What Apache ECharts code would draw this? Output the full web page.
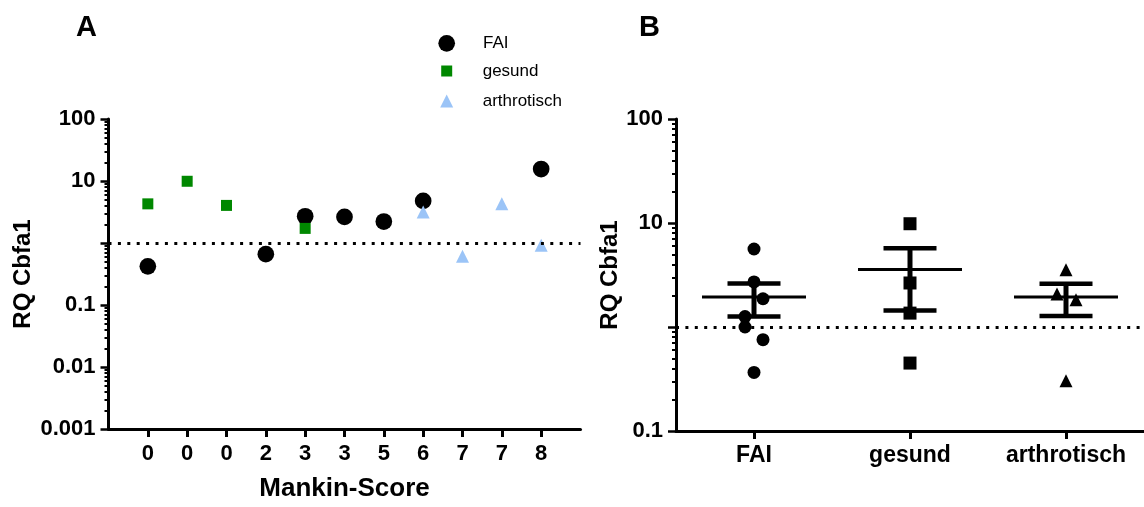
<!DOCTYPE html>
<html><head><meta charset="utf-8">
<script src="https://cdn.jsdelivr.net/npm/echarts@6/dist/echarts.min.js"></script>
<style>html,body{margin:0;padding:0;background:#fff}#c{width:1144px;height:507px}</style>
</head><body><div id="c"></div>
<script>
// ---- Panel A data (Mankin-Score categories, one slot per sample) ----
const mankinCategories = ['', '0', '0', '0', '2', '3', '3', '5', '6', '7', '7', '8', ''];
const faiA     = [null, 0.42, null, null, 0.66, 2.70, 2.63, 2.22, 4.78, null, null, 15.6, null];
const gesundA  = [null, 4.28, 9.9, 4.04, null, 1.72, null, null, null, null, null, null, null];
const arthroA  = [null, null, null, null, null, null, null, null, 3.16, 0.61, 4.28, 0.92, null];
const yTickLabelsA = ['0.001', '0.01', '0.1', '', '10', '100'];   // decades 10^-3 .. 10^2

// ---- Panel B data ----
const groupCategories = ['FAI', 'gesund', 'arthrotisch'];
const faiB    = [5.62, 2.71, 1.87, 1.26, 1.00, 0.755, 0.366];
const gesundB = [9.84, 2.65, 1.36, 0.45];
const arthroB = [3.56, 2.08, 1.83, 0.305];
const yTickLabelsB = ['0.1', '', '10', '100'];                    // decades 10^-1 .. 10^2
const referenceLevel = 1;

// horizontal scatter jitter (pixels) - styling only
const jitterFai = [0, 0, 9, -9, -9, 9, 0];
const jitterGesund = [0, 0, 0, 0];
const jitterArthro = [0, -9, 10, 0];

const FONT = "'Liberation Sans', Arial, Helvetica, sans-serif";
const GREEN = '#008800';
const LIGHTBLUE = '#9bc4f7';

function meanSem(arr) {
  const n = arr.length;
  const m = arr.reduce((a, b) => a + b, 0) / n;
  const sd = Math.sqrt(arr.reduce((a, b) => a + (b - m) * (b - m), 0) / (n - 1));
  const sem = sd / Math.sqrt(n);
  return [m, m - sem, m + sem];
}
const statsB = [faiB, gesundB, arthroB].map((arr, i) => [i].concat(meanSem(arr)));

const chart = echarts.init(document.getElementById('c'), null, { renderer: 'canvas' });

const boldLabel = (size) => ({ color: '#000', fontSize: size, fontWeight: 'bold', fontFamily: FONT });
const axisLine = { show: true, lineStyle: { color: '#000', width: 3 } };

function logAxis(grid, min, max, labels, offsetDecade, nameGap) {
  return {
    gridIndex: grid, type: 'log', logBase: 10, min: min, max: max,
    axisLine: axisLine,
    axisTick: { show: true, length: 8, lineStyle: { color: '#000', width: 2.5 } },
    minorTick: { show: true, splitNumber: 9, length: 4, lineStyle: { color: '#000', width: 2 } },
    splitLine: { show: false }, minorSplitLine: { show: false },
    axisLabel: Object.assign({ margin: 13, formatter: v => labels[Math.round(Math.log10(v)) + offsetDecade] }, boldLabel(22)),
    name: 'RQ Cbfa1', nameLocation: 'middle', nameGap: nameGap,
    nameTextStyle: boldLabel(24)
  };
}

const dotted = {
  silent: true, symbol: 'none', label: { show: false },
  lineStyle: { type: [3, 6.4], color: '#000', width: 3 },
  emphasis: { disabled: true },
  data: [{ yAxis: referenceLevel }]
};

function legendFor(name, icon, size, cx, cy, pad) {
  return {
    data: [{ name: name, icon: icon }], selectedMode: false,
    left: cx - size / 2, top: cy - 9, padding: 0,
    itemWidth: size, itemHeight: size,
    textStyle: { fontSize: 17, lineHeight: 18, color: '#000', fontFamily: FONT, padding: [0, 0, 0, pad] }
  };
}

const option = {
  animation: false,
  backgroundColor: '#fff',
  title: [
    { text: 'A', left: 76, top: 13, padding: 0, textStyle: { fontSize: 29, fontWeight: 'bold', color: '#000', fontFamily: FONT } },
    { text: 'B', left: 639, top: 13, padding: 0, textStyle: { fontSize: 29, fontWeight: 'bold', color: '#000', fontFamily: FONT } }
  ],
  legend: [
    legendFor('FAI', 'circle', 16.7, 446.7, 43.3, 23),
    legendFor('gesund', 'rect', 11, 446.7, 71, 25.5),
    legendFor('arthrotisch', 'triangle', 13, 446.7, 101, 24.5)
  ],
  grid: [
    { left: 108.5, top: 119, width: 472, height: 315 },
    { left: 676, top: 119, width: 471, height: 312 }
  ],
  xAxis: [
    {
      gridIndex: 0, type: 'category', data: mankinCategories, boundaryGap: false,
      axisLine: axisLine,
      axisTick: { show: true, length: 8, lineStyle: { color: '#000', width: 3 }, interval: (i) => i > 0 && i < mankinCategories.length - 1 },
      axisLabel: Object.assign({ margin: 14, interval: 0 }, boldLabel(22)),
      splitLine: { show: false },
      name: 'Mankin-Score', nameLocation: 'middle', nameGap: 47,
      nameTextStyle: boldLabel(26)
    },
    {
      gridIndex: 1, type: 'category', data: groupCategories, boundaryGap: true,
      axisLine: axisLine,
      axisTick: { show: true, length: 8, alignWithLabel: true, lineStyle: { color: '#000', width: 3 } },
      axisLabel: Object.assign({ margin: 13, interval: 0 }, boldLabel(23)),
      splitLine: { show: false }
    }
  ],
  yAxis: [
    logAxis(0, 0.001, 100, yTickLabelsA, 3, 73.5),
    logAxis(1, 0.1, 100, yTickLabelsB, 1, 53)
  ],
  series: [
    { name: 'FAI', type: 'scatter', xAxisIndex: 0, yAxisIndex: 0, data: faiA, symbol: 'circle', symbolSize: 16.7,
      itemStyle: { color: '#000', opacity: 1 }, markLine: dotted },
    { name: 'gesund', type: 'scatter', xAxisIndex: 0, yAxisIndex: 0, data: gesundA, symbol: 'rect', symbolSize: 11,
      itemStyle: { color: GREEN, opacity: 1 } },
    { name: 'arthrotisch', type: 'scatter', xAxisIndex: 0, yAxisIndex: 0, data: arthroA, symbol: 'triangle', symbolSize: 13,
      itemStyle: { color: LIGHTBLUE, opacity: 1 } },

    { type: 'custom', xAxisIndex: 1, yAxisIndex: 1, data: statsB, encode: { x: 0, y: [1, 2, 3] }, z: 3,
      renderItem: function (params, api) {
        const x = api.value(0);
        const pm = api.coord([x, api.value(1)]);
        const pl = api.coord([x, api.value(2)]);
        const ph = api.coord([x, api.value(3)]);
        const st = (w) => ({ stroke: '#000', lineWidth: w });
        return { type: 'group', children: [
          { type: 'line', shape: { x1: pm[0] - 52, y1: pm[1], x2: pm[0] + 52, y2: pm[1] }, style: st(3) },
          { type: 'line', shape: { x1: pl[0], y1: pl[1], x2: ph[0], y2: ph[1] }, style: st(5) },
          { type: 'line', shape: { x1: ph[0] - 26.5, y1: ph[1], x2: ph[0] + 26.5, y2: ph[1] }, style: st(4.5) },
          { type: 'line', shape: { x1: pl[0] - 26.5, y1: pl[1], x2: pl[0] + 26.5, y2: pl[1] }, style: st(4.5) }
        ]};
      },
      markLine: dotted
    },
    { type: 'scatter', xAxisIndex: 1, yAxisIndex: 1, symbol: 'circle', symbolSize: 13, z: 4, itemStyle: { color: '#000', opacity: 1 },
      data: faiB.map((v, i) => ({ value: [0, v], symbolOffset: [jitterFai[i], 0] })) },
    { type: 'scatter', xAxisIndex: 1, yAxisIndex: 1, symbol: 'rect', symbolSize: 13, z: 4, itemStyle: { color: '#000', opacity: 1 },
      data: gesundB.map((v, i) => ({ value: [1, v], symbolOffset: [jitterGesund[i], 0] })) },
    { type: 'scatter', xAxisIndex: 1, yAxisIndex: 1, symbol: 'triangle', symbolSize: 13, z: 4, itemStyle: { color: '#000', opacity: 1 },
      data: arthroB.map((v, i) => ({ value: [2, v], symbolOffset: [jitterArthro[i], 0] })) }
  ]
};
chart.setOption(option);
</script>
</body></html>
